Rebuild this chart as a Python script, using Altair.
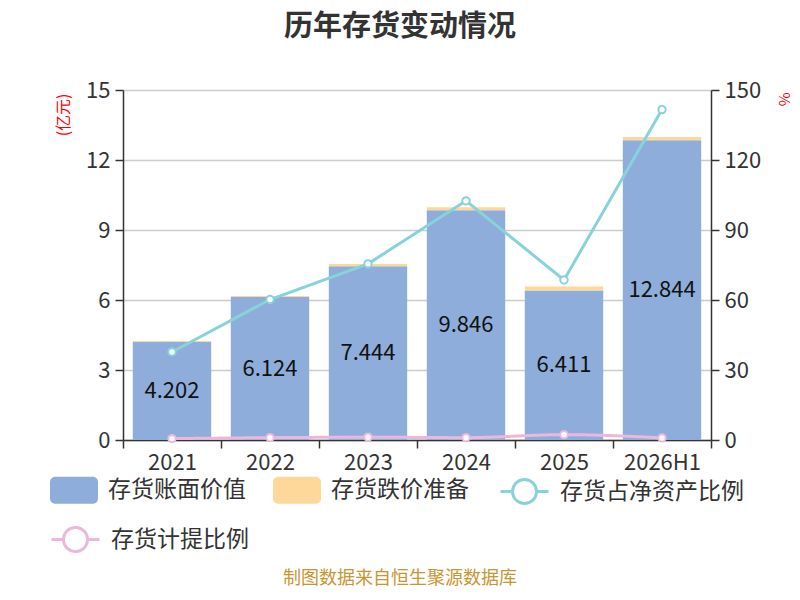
import altair as alt
import pandas as pd

years = ["2021", "2022", "2023", "2024", "2025", "2026H1"]
book_value = [4.202, 6.124, 7.444, 9.846, 6.411, 12.844]
provision = [0.04, 0.05, 0.10, 0.13, 0.17, 0.14]
ratio_net_assets = [37.7, 60.2, 75.5, 102.5, 68.6, 141.6]
ratio_provision = [0.6, 1.0, 1.2, 1.0, 2.3, 0.9]

S_BOOK = "存货账面价值"
S_PROV = "存货跌价准备"
S_NET = "存货占净资产比例"
S_PR = "存货计提比例"
C_BOOK, C_PROV, C_NET, C_PR = "#8eaddb", "#fed89b", "#88d3d7", "#ebb8dc"

FONT = "Noto Sans CJK SC"

bars_df = pd.DataFrame(
    [{"year": y, "series": S_BOOK, "value": v, "ord": 0} for y, v in zip(years, book_value)]
    + [{"year": y, "series": S_PROV, "value": v, "ord": 1} for y, v in zip(years, provision)]
)
label_df = pd.DataFrame({"year": years, "value": book_value})
net_df = pd.DataFrame({"year": years, "series": S_NET, "value": ratio_net_assets})
pr_df = pd.DataFrame({"year": years, "series": S_PR, "value": ratio_provision})
footer_df = pd.DataFrame({"t": ["制图数据来自恒生聚源数据库"]})

W, H = 588, 350

x_enc = alt.X(
    "year:N",
    sort=years,
    scale=alt.Scale(paddingInner=0, paddingOuter=0),
    axis=alt.Axis(
        title=None, labelAngle=0, tickBand="extent", labelFontSize=22, labelFont=FONT,
        labelColor="#333", domainColor="#333", tickColor="#333", domainWidth=1.5,
        tickWidth=1.5, tickSize=8, labelPadding=4, grid=False,
    ),
)

RECT = ("M-0.78,-0.56 H0.78 A0.22,0.22 0 0 1 1,-0.34 V0.34 A0.22,0.22 0 0 1 0.78,0.56 "
        "H-0.78 A0.22,0.22 0 0 1 -1,0.34 V-0.34 A0.22,0.22 0 0 1 -0.78,-0.56 Z")
LINE = "M-1,0 H-0.5 M0.5,0 H1 M-0.5,0 A0.5,0.5 0 1 1 0.5,0 A0.5,0.5 0 1 1 -0.5,0 Z"

leg_common = dict(
    title=None, orient="none", direction="horizontal", labelFontSize=23,
    labelFont=FONT, labelColor="#333", labelLimit=300, symbolSize=2304,
    columnPadding=27, rowPadding=0, labelOffset=10,
)

legend_bars = alt.Legend(legendX=-73, legendY=376, symbolType=RECT, symbolStrokeWidth=0, **leg_common)
legend_net = alt.Legend(
    legendX=376, legendY=376, symbolType=LINE, symbolFillColor="white",
    symbolStrokeWidth=3, **leg_common,
)
legend_pr = alt.Legend(
    legendX=-73, legendY=424, symbolType=LINE, symbolFillColor="white",
    symbolStrokeColor=C_PR, symbolStrokeWidth=3, **leg_common,
)

y_left = alt.Y(
    "value:Q",
    stack="zero",
    scale=alt.Scale(domain=[0, 15], nice=False),
    axis=alt.Axis(
        values=[0, 3, 6, 9, 12, 15], title="(亿元)", titleColor="red", titleFont=FONT,
        titleFontSize=16, titleFontWeight="normal", titleAngle=-90, titleX=-60, titleY=3,
        titleAlign="right", titleBaseline="middle",
        labelFontSize=22, labelFont=FONT, labelColor="#333", domainColor="#333",
        tickColor="#333", domainWidth=1.5, tickWidth=1.5, tickSize=8, labelPadding=5,
        gridColor="#cccccc", gridWidth=1.5,
    ),
)

bars = alt.Chart(bars_df).mark_bar(width=alt.RelativeBandSize(0.8)).encode(
    x=x_enc,
    y=y_left,
    color=alt.Color("series:N", scale=alt.Scale(domain=[S_BOOK, S_PROV], range=[C_BOOK, C_PROV]),
                    legend=legend_bars, sort=[S_BOOK, S_PROV]),
    order=alt.Order("ord:Q", sort="ascending"),
)

labels = alt.Chart(label_df).transform_calculate(mid="datum.value / 2").mark_text(
    fontSize=22, font=FONT, color="#111", baseline="middle"
).encode(
    x=alt.X("year:N", sort=years),
    y=alt.Y("mid:Q"),
    text=alt.Text("value:Q", format=".3f"),
)

y_right_axis = alt.Axis(
    orient="right", values=[0, 30, 60, 90, 120, 150], title="%", titleColor="red",
    titleFont=FONT, titleFontSize=15, titleFontWeight="normal", titleAngle=90,
    titleX=72, titleY=2, titleAlign="left", titleBaseline="middle",
    labelFontSize=22, labelFont=FONT, labelColor="#333", domainColor="#333",
    tickColor="#333", domainWidth=1.5, tickWidth=1.5, tickSize=8, labelPadding=5,
    grid=False,
)
y_right = alt.Y("value:Q", scale=alt.Scale(domain=[0, 150], nice=False), axis=y_right_axis)
x_plain = alt.X("year:N", sort=years)

net_stroke = alt.Stroke("series:N", scale=alt.Scale(domain=[S_NET], range=[C_NET]), legend=legend_net)
line_net = alt.Chart(net_df).mark_line(strokeWidth=3).encode(x=x_plain, y=y_right, stroke=net_stroke)
pts_net = alt.Chart(net_df).mark_point(
    filled=False, fill="white", fillOpacity=1, opacity=1, size=55, strokeWidth=2
).encode(x=x_plain, y=y_right, stroke=net_stroke)

line_pr = alt.Chart(pr_df).mark_line(strokeWidth=3, interpolate="monotone", color=C_PR).encode(
    x=x_plain, y=y_right,
    strokeDash=alt.StrokeDash("series:N", scale=alt.Scale(domain=[S_PR], range=[[1, 0]]), legend=legend_pr),
)
pts_pr = alt.Chart(pr_df).mark_point(
    filled=False, fill="white", fillOpacity=1, opacity=1, size=55, strokeWidth=2, color=C_PR
).encode(x=x_plain, y=y_right)

footer = alt.Chart(footer_df).mark_text(
    fontSize=18, font=FONT, color="#c99532", baseline="middle", align="center"
).encode(text="t:N", x=alt.value(W / 2 - 17), y=alt.value(489))

left = alt.layer(bars, labels, footer)
right = alt.layer(line_net, line_pr, pts_net, pts_pr)

chart = alt.layer(left, right).resolve_scale(y="independent").properties(
    width=W,
    height=H,
    title=alt.TitleParams(
        text="历年存货变动情况", font=FONT, fontSize=29, fontWeight="bold",
        color="#333", anchor="middle", offset=37, dx=-17,
    ),
    autosize=alt.AutoSizeParams(type="none"),
    padding={"left": 115, "top": 82, "right": 81, "bottom": 152},
).configure_view(stroke=None)

chart.save("out.html", embed_options={"renderer": "svg", "actions": False})
